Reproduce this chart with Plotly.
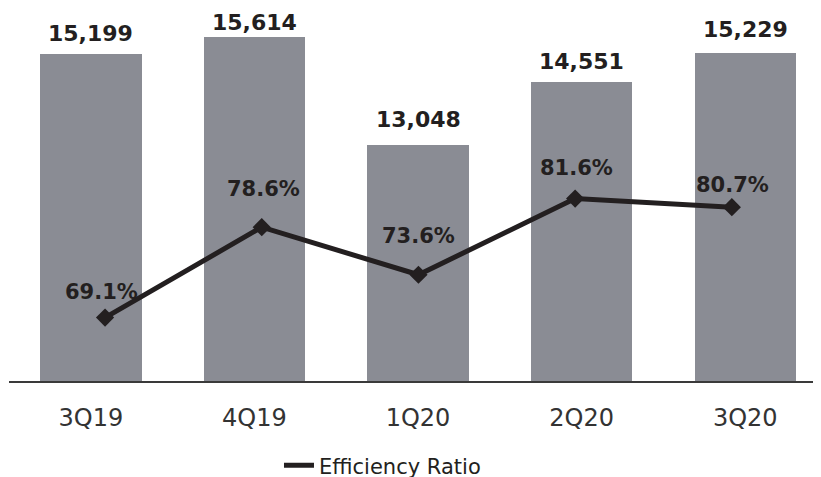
import plotly.graph_objects as go

categories = ["3Q19", "4Q19", "1Q20", "2Q20", "3Q20"]
revenue = [15199, 15614, 13048, 14551, 15229]
revenue_labels = ["15,199", "15,614", "13,048", "14,551", "15,229"]
efficiency = [69.1, 78.6, 73.6, 81.6, 80.7]
efficiency_labels = ["69.1%", "78.6%", "73.6%", "81.6%", "80.7%"]

# label offsets (pixels) - style only
bar_label_shift = [21, 14, 26, 20, 24]
pct_label_shift = [26, 38, 39, 31, 22]
pct_label_xshift = [-4, 2, 0, 1, 1]

BAR = "#8a8c94"
INK = "#231f20"
FONT = "DejaVu Sans"

fig = go.Figure()
fig.add_trace(go.Bar(x=categories, y=revenue, marker=dict(color=BAR, line=dict(width=0)),
                     width=0.62, showlegend=False, hoverinfo="skip"))
fig.add_trace(go.Scatter(x=categories, y=efficiency, mode="lines", name="Efficiency Ratio",
                         line=dict(color=INK, width=5), xaxis="x2", yaxis="y2"))
fig.add_trace(go.Scatter(x=categories, y=efficiency, mode="markers", showlegend=False,
                         marker=dict(symbol="diamond", size=14, color=INK),
                         xaxis="x2", yaxis="y2"))

annotations = []
for c, v, t, s in zip(categories, revenue, revenue_labels, bar_label_shift):
    annotations.append(dict(x=c, y=v, xref="x", yref="y", text=t, showarrow=False,
                            yanchor="middle", yshift=s,
                            font=dict(family=FONT, size=22, color=INK, weight="bold")))
for c, v, t, s, xs in zip(categories, efficiency, efficiency_labels, pct_label_shift, pct_label_xshift):
    annotations.append(dict(x=c, y=v, xref="x2", yref="y2", text=t, showarrow=False,
                            yanchor="middle", yshift=s, xshift=xs,
                            font=dict(family=FONT, size=21, color=INK, weight="bold")))

fig.update_layout(
    width=813, height=469,
    margin=dict(l=1, r=0, t=0, b=96, autoexpand=False),
    paper_bgcolor="white", plot_bgcolor="white",
    bargap=0,
    showlegend=True,
    legend=dict(orientation="h", x=0.3325, xanchor="left", y=-0.172, yanchor="top",
                font=dict(family=FONT, size=21, color=INK), bgcolor="rgba(0,0,0,0)"),
    xaxis=dict(type="category", range=[-0.5, 4.463], showline=True, linecolor="#3a3a3a",
               linewidth=1.5, showgrid=False, zeroline=False, ticks="",
               ticklabelstandoff=14, automargin=False,
               tickfont=dict(family=FONT, size=24, color="#333333")),
    xaxis2=dict(type="category", overlaying="x", range=[-0.613, 4.569], visible=False),
    yaxis=dict(range=[7480, 16298], visible=False, showgrid=False, zeroline=False,
               automargin=False),
    yaxis2=dict(overlaying="y", range=[62.44, 101.62], visible=False, showgrid=False,
                zeroline=False, automargin=False),
    annotations=annotations,
)

fig.write_html("out.html")
